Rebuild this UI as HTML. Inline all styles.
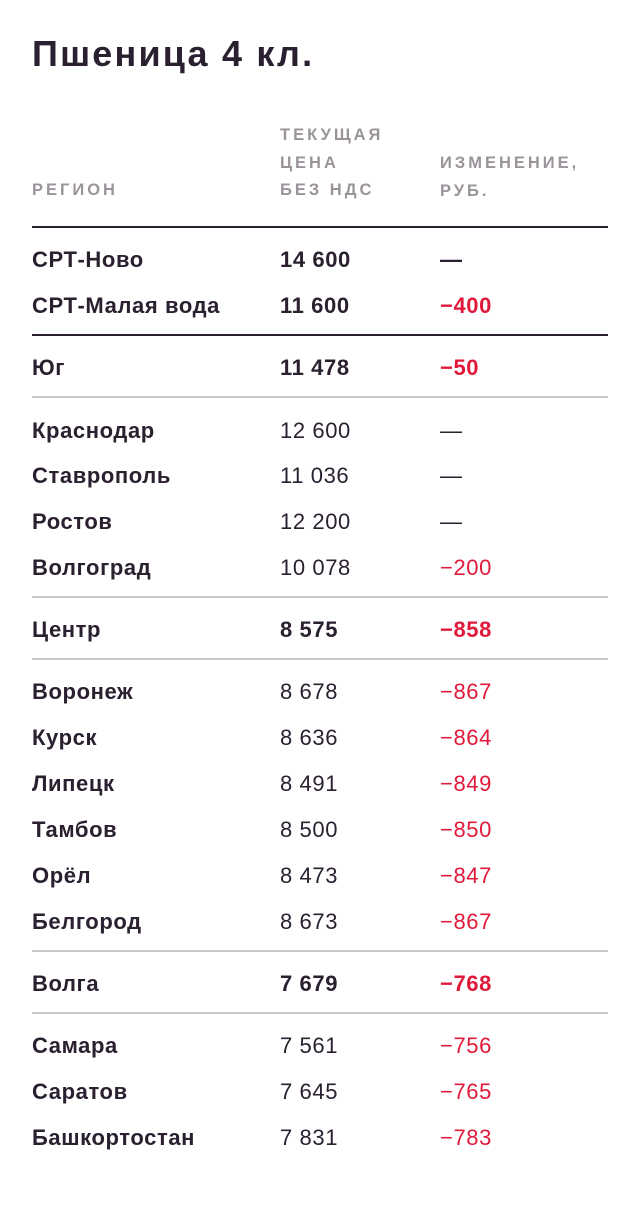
<!DOCTYPE html>
<html><head><meta charset="utf-8"><style>
body{margin:0;width:640px;height:1208px;background:#fff;position:relative;font-family:"Liberation Sans","DejaVu Sans",sans-serif;color:#2a2030;overflow:hidden}
.t{position:absolute;left:32px;top:34px;font-size:36px;font-weight:bold;letter-spacing:2.2px;line-height:40px}
.h{position:absolute;font-size:16.5px;letter-spacing:3px;color:#9a949a;line-height:27.5px;font-weight:bold}
.l{position:absolute;left:32px;width:576px}
.k{height:2px;background:#2a2030}
.g{height:1.5px;background:#c8c8c8}
.r{position:absolute;font-size:22px;line-height:26px;white-space:nowrap;letter-spacing:0.6px}
.b{font-weight:bold}
.red{color:#e0193a}
</style></head><body>
<div class="t">Пшеница 4 кл.</div>
<div class="h" style="left:32px;top:177px">РЕГИОН</div>
<div class="h" style="left:280px;top:122px">ТЕКУЩАЯ<br>ЦЕНА<br>БЕЗ НДС</div>
<div class="h" style="left:440px;top:150px">ИЗМЕНЕНИЕ,<br>РУБ.</div>
<div class="l k" style="top:226px"></div>
<div class="l k" style="top:334px"></div>
<div class="l g" style="top:396px"></div>
<div class="l g" style="top:596px"></div>
<div class="l g" style="top:658px"></div>
<div class="l g" style="top:950px"></div>
<div class="l g" style="top:1012px"></div>

<div class="r b" style="left:32px;top:247px">СРТ-Ново</div><div class="r b" style="left:280px;top:247px">14 600</div><div class="r b" style="left:440px;top:247px">—</div>
<div class="r b" style="left:32px;top:293px">СРТ-Малая вода</div><div class="r b" style="left:280px;top:293px">11 600</div><div class="r b red" style="left:440px;top:293px">−400</div>
<div class="r b" style="left:32px;top:355px">Юг</div><div class="r b" style="left:280px;top:355px">11 478</div><div class="r b red" style="left:440px;top:355px">−50</div>
<div class="r b" style="left:32px;top:418px">Краснодар</div><div class="r" style="left:280px;top:418px">12 600</div><div class="r" style="left:440px;top:418px">—</div>
<div class="r b" style="left:32px;top:463px">Ставрополь</div><div class="r" style="left:280px;top:463px">11 036</div><div class="r" style="left:440px;top:463px">—</div>
<div class="r b" style="left:32px;top:509px">Ростов</div><div class="r" style="left:280px;top:509px">12 200</div><div class="r" style="left:440px;top:509px">—</div>
<div class="r b" style="left:32px;top:555px">Волгоград</div><div class="r" style="left:280px;top:555px">10 078</div><div class="r red" style="left:440px;top:555px">−200</div>
<div class="r b" style="left:32px;top:617px">Центр</div><div class="r b" style="left:280px;top:617px">8 575</div><div class="r b red" style="left:440px;top:617px">−858</div>
<div class="r b" style="left:32px;top:679px">Воронеж</div><div class="r" style="left:280px;top:679px">8 678</div><div class="r red" style="left:440px;top:679px">−867</div>
<div class="r b" style="left:32px;top:725px">Курск</div><div class="r" style="left:280px;top:725px">8 636</div><div class="r red" style="left:440px;top:725px">−864</div>
<div class="r b" style="left:32px;top:771px">Липецк</div><div class="r" style="left:280px;top:771px">8 491</div><div class="r red" style="left:440px;top:771px">−849</div>
<div class="r b" style="left:32px;top:817px">Тамбов</div><div class="r" style="left:280px;top:817px">8 500</div><div class="r red" style="left:440px;top:817px">−850</div>
<div class="r b" style="left:32px;top:863px">Орёл</div><div class="r" style="left:280px;top:863px">8 473</div><div class="r red" style="left:440px;top:863px">−847</div>
<div class="r b" style="left:32px;top:909px">Белгород</div><div class="r" style="left:280px;top:909px">8 673</div><div class="r red" style="left:440px;top:909px">−867</div>
<div class="r b" style="left:32px;top:971px">Волга</div><div class="r b" style="left:280px;top:971px">7 679</div><div class="r b red" style="left:440px;top:971px">−768</div>
<div class="r b" style="left:32px;top:1033px">Самара</div><div class="r" style="left:280px;top:1033px">7 561</div><div class="r red" style="left:440px;top:1033px">−756</div>
<div class="r b" style="left:32px;top:1079px">Саратов</div><div class="r" style="left:280px;top:1079px">7 645</div><div class="r red" style="left:440px;top:1079px">−765</div>
<div class="r b" style="left:32px;top:1125px">Башкортостан</div><div class="r" style="left:280px;top:1125px">7 831</div><div class="r red" style="left:440px;top:1125px">−783</div>
</body></html>
